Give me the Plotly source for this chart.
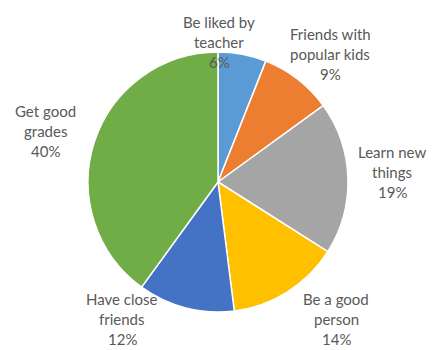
import plotly.graph_objects as go

labels = ["Be liked by teacher", "Friends with popular kids", "Learn new things",
          "Be a good person", "Have close friends", "Get good grades"]
label_lines = [["Be liked by", "teacher"], ["Friends with", "popular kids"], ["Learn new", "things"],
               ["Be a good", "person"], ["Have close", "friends"], ["Get good", "grades"]]
values = [6, 9, 19, 14, 12, 40]
colors = ["#5B9BD5", "#ED7D31", "#A5A5A5", "#FFC000", "#4472C4", "#70AD47"]

W, H = 435, 350
OFF = 8  # page body margin offset
# label centres (reference pixel coords, centre of middle line)
label_pos = [(219, 42), (330, 54), (392, 172), (336, 319), (122, 319), (45, 131)]
LINE = 20

cx, cy, r = 218 - OFF, 182 - OFF, 130

fig = go.Figure(go.Pie(
    labels=labels, values=values, sort=False, direction="clockwise", rotation=0,
    marker=dict(colors=colors, line=dict(color="white", width=1.5)),
    textinfo="none", hoverinfo="label+percent", showlegend=False,
    domain=dict(x=[(cx - r) / W, (cx + r) / W], y=[(H - cy - r) / H, (H - cy + r) / H]),
))

tot = sum(values)
for lines, v, (px, py) in zip(label_lines, values, label_pos):
    all_lines = lines + [f"{round(100 * v / tot)}%"]
    for i, t in enumerate(all_lines):
        yy = py - OFF + (i - 1) * LINE
        fig.add_annotation(
            x=(px - OFF) / W, y=1 - yy / H, xref="paper", yref="paper",
            text=t, showarrow=False, xanchor="center", yanchor="middle", align="center",
            font=dict(family="Lato", size=15, color="#595959"),
        )

fig.update_layout(width=W, height=H, margin=dict(l=0, r=0, t=0, b=0),
                  paper_bgcolor="white", plot_bgcolor="white")
fig.write_html("out.html")
